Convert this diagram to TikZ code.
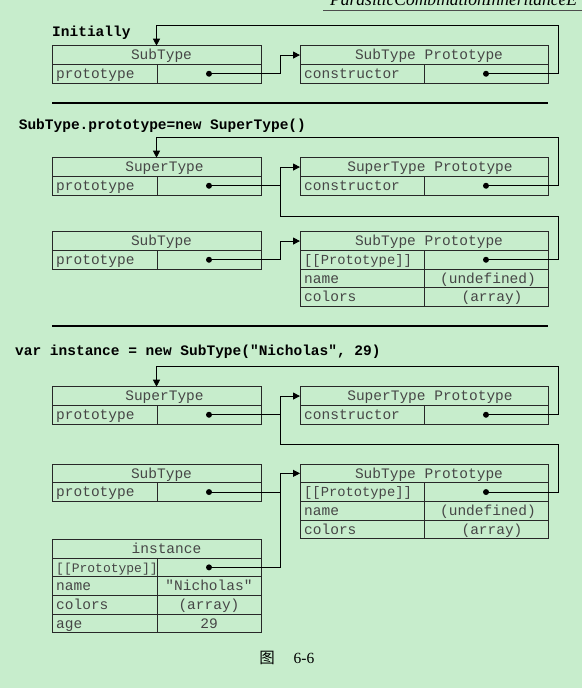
\documentclass[tikz,border=0pt]{standalone}
\usepackage{fontspec}
\setmainfont{Liberation Serif}
\setmonofont{Liberation Mono}
\newfontfamily\cjk{Noto Sans CJK SC}
\usetikzlibrary{arrows.meta}
\definecolor{bg}{RGB}{199,237,204}
\definecolor{boxline}{RGB}{40,40,40}
\definecolor{celltext}{RGB}{70,70,70}
\newcommand\cellfont{\fontsize{14.5}{16}\selectfont\ttfamily}
\newcommand\codefont{\fontsize{14.5}{16}\selectfont\ttfamily\bfseries}
\newcommand\protofont{\fontsize{13.8}{16}\selectfont}
\newcommand\insprotofont{\fontsize{13}{16}\selectfont}
\newcommand\fnamefont{\fontsize{17.5}{20}\selectfont\itshape}
\newcommand\capfont{\fontsize{15.5}{18}\selectfont}
\tikzset{
  cellbox/.style={draw=boxline, line width=0.9pt, anchor=north west, minimum height=18.7pt,
    inner sep=0pt, outer sep=0pt, font=\cellfont, text=celltext, text height=11.5pt, text depth=2pt},
  celltxt/.style={anchor=west, inner sep=0pt, font=\cellfont, text=celltext, text height=11.5pt, text depth=2pt},
  dotn/.style={circle, fill=black, inner sep=0pt, minimum size=6pt},
  conn/.style={draw=black, line width=0.9pt},
  arr/.style={conn, -{Triangle[length=7pt,width=7pt]}},
  codelbl/.style={anchor=west, inner sep=0pt, font=\codefont, text=black},
  sepline/.style={draw=black, line width=1.8pt}
}
% header cell: name, x, y, width, text, text shift
\newcommand\hdr[6]{%
  \node[cellbox, minimum width=#4pt] (#1) at (#2,#3) {};
  \node[celltxt, anchor=center] (#1t) at ([xshift=#6pt]#1.center) {#5};}
% row: name, x, y, left width, right width, left text, right text
\newcommand\objrow[7]{%
  \node[cellbox, minimum width=#4pt] (#1l) at (#2,#3) {};
  \node[celltxt] (#1t) at ([xshift=4pt]#1l.west) {#6};
  \node[cellbox, minimum width=#5pt] (#1r) at ({#2+#4},#3) {#7};}
\begin{document}
\begin{tikzpicture}[x=1pt,y=-1pt]
\fill[bg] (0,0) rectangle (582,688);
\useasboundingbox (0,0) rectangle (582,688);

% file name at the top
\node[anchor=base west, inner sep=0pt, font=\fnamefont] (fname) at (330,5.5) {ParasiticCombinationInheritanceE};
\coordinate (ulA) at (323,10.7);
\coordinate (ulB) at (582,10.7);
\draw[line width=1.5pt, black!70] (ulA) -- (ulB);

% ---------- Section 1 ----------
\node[codelbl] (lbl1) at (52,32.5) {Initially};
\hdr{sa}{52}{45.7}{209}{SubType}{5}
\objrow{saA}{52}{64.4}{105}{104}{prototype}{}
\node[dotn] (saAd) at (saAr.center) {};
\hdr{pa}{300}{45.7}{248}{SubType Prototype}{5}
\objrow{paA}{300}{64.4}{124}{124}{constructor}{}
\node[dotn] (paAd) at (paAr.center) {};
\coordinate (ja) at (280.3,55);
\coordinate (ra) at (558,25.7);
\draw[arr] (saAd.center) -- (saAd -| ja) |- (pa.west);
\draw[arr] (paAd.center) -- (paAd -| ra) -- (ra) -| (sa.north);

\coordinate (s1a) at (52,102.7);
\coordinate (s1b) at (548,102.7);
\draw[sepline] (s1a) -- (s1b);

% ---------- Section 2 ----------
\node[codelbl] (lbl2) at (18.6,125.5) {SubType.prototype=new SuperType()};
\hdr{sb}{52}{157.7}{209}{SuperType}{8}
\objrow{sbA}{52}{176.4}{105}{104}{prototype}{}
\node[dotn] (sbAd) at (sbAr.center) {};
\hdr{pb}{300}{157.7}{248}{SuperType Prototype}{6}
\objrow{pbA}{300}{176.4}{124}{124}{constructor}{}
\node[dotn] (pbAd) at (pbAr.center) {};
\hdr{sc}{52}{231.7}{209}{SubType}{5}
\objrow{scA}{52}{250.4}{105}{104}{prototype}{}
\node[dotn] (scAd) at (scAr.center) {};
\hdr{pc}{300}{231.7}{248}{SubType Prototype}{5}
\objrow{pcA}{300}{250.4}{124}{124}{\protofont[[Prototype]]}{}
\node[dotn] (pcAd) at (pcAr.center) {};
\objrow{pcB}{300}{269.1}{124}{124}{name}{\hspace*{4pt}(undefined)}
\objrow{pcC}{300}{287.8}{124}{124}{colors}{\hspace*{12pt}(array)}

\coordinate (rb) at (558,137.3);
\draw[arr] (pbAd.center) -- (pbAd -| rb) -- (rb) -| (sb.north);
\coordinate (jb) at (280.3,216.7);
\coordinate (rc) at (558,216.7);
\draw[conn] (sbAd.center) -- (sbAd -| jb);
\draw[arr] (pcAd.center) -- (pcAd -| rc) -- (rc) -- (jb) |- (pb.west);
\draw[arr] (scAd.center) -- (scAd -| jb) |- (pc.west);

\coordinate (s2a) at (52,325.7);
\coordinate (s2b) at (548,325.7);
\draw[sepline] (s2a) -- (s2b);

% ---------- Section 3 ----------
\node[codelbl] (lbl3) at (15,352) {var instance = new SubType("Nicholas", 29)};
\hdr{sd}{52}{386.7}{209}{SuperType}{8}
\objrow{sdA}{52}{405.4}{105}{104}{prototype}{}
\node[dotn] (sdAd) at (sdAr.center) {};
\hdr{pd}{300}{386.7}{248}{SuperType Prototype}{6}
\objrow{pdA}{300}{405.4}{124}{124}{constructor}{}
\node[dotn] (pdAd) at (pdAr.center) {};
\hdr{se}{52}{464}{209}{SubType}{5}
\objrow{seA}{52}{482.7}{105}{104}{prototype}{}
\node[dotn] (seAd) at (seAr.center) {};
\hdr{pe}{300}{464}{248}{SubType Prototype}{5}
\objrow{peA}{300}{482.7}{124}{124}{\protofont[[Prototype]]}{}
\node[dotn] (peAd) at (peAr.center) {};
\objrow{peB}{300}{501.4}{124}{124}{name}{\hspace*{4pt}(undefined)}
\objrow{peC}{300}{520.1}{124}{124}{colors}{\hspace*{12pt}(array)}
\hdr{ins}{52}{539.3}{209}{instance}{10}
\objrow{insA}{52}{558}{105}{104}{\insprotofont[[Prototype]]}{}
\node[dotn] (insAd) at (insAr.center) {};
\objrow{insB}{52}{576.7}{105}{104}{name}{"Nicholas"}
\objrow{insC}{52}{595.4}{105}{104}{colors}{(array)}
\objrow{insD}{52}{614.1}{105}{104}{age}{29}

\coordinate (rd) at (558,366.7);
\draw[arr] (pdAd.center) -- (pdAd -| rd) -- (rd) -| (sd.north);
\coordinate (jd) at (280.3,444.3);
\coordinate (re) at (558,444.3);
\draw[conn] (sdAd.center) -- (sdAd -| jd);
\draw[arr] (peAd.center) -- (peAd -| re) -- (re) -- (jd) |- (pd.west);
\draw[arr] (insAd.center) -- (insAd -| jd) |- (pe.west);
\draw[conn] (seAd.center) -- (seAd -| jd);

% caption
\node[font=\capfont\cjk, inner sep=0pt] (cap1) at (267,658) {图};
\node[font=\capfont, inner sep=0pt] (cap2) at (304,658) {6-6};
\end{tikzpicture}
\end{document}
